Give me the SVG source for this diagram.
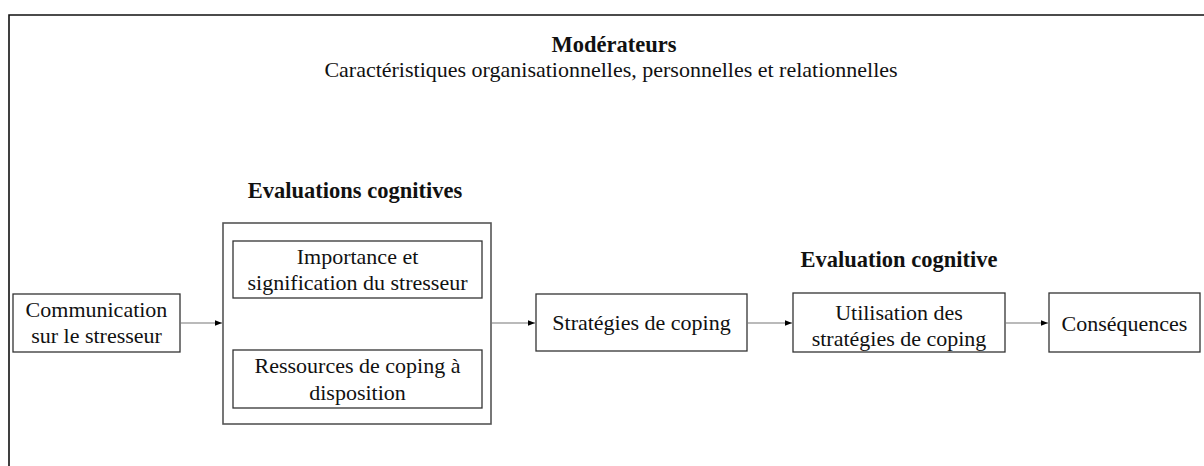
<svg xmlns="http://www.w3.org/2000/svg" width="1204" height="466" viewBox="0 0 1204 466">
  <style>
    text { font-family: "Liberation Serif", "Times New Roman", serif; font-size: 22px; fill: #111; text-anchor: middle; }
    .b { font-weight: bold; font-size: 22.5px; }
    .box { fill: none; stroke: #333; stroke-width: 1.3; }
    .big { fill: none; stroke: #555; stroke-width: 1.6; }
    .conn { stroke: #777; stroke-width: 1.2; fill: none; }
  </style>
  <defs>
    <marker id="ah" viewBox="0 0 10 10" refX="10" refY="5" markerWidth="7" markerHeight="7" markerUnits="userSpaceOnUse" orient="auto">
      <path d="M0,1 L10,5 L0,9 Z" fill="#000"/>
    </marker>
  </defs>
  <rect width="1204" height="466" fill="#fff"/>
  <g id="frame">
    <path d="M9,466 V15 H1204" fill="none" stroke="#111" stroke-width="1.6"/>
  </g>
  <g id="moderateurs">
    <text class="b" x="614" y="52">Modérateurs</text>
    <text x="611" y="77">Caractéristiques organisationnelles, personnelles et relationnelles</text>
  </g>
  <g id="communication">
    <rect class="box" x="13" y="294" width="167" height="58"/>
    <text x="96.5" y="317">Communication</text>
    <text x="96.5" y="343">sur le stresseur</text>
  </g>
  <g id="evaluations">
    <text class="b" x="355" y="198">Evaluations cognitives</text>
    <rect class="big" x="223" y="223" width="268" height="201"/>
  </g>
  <g id="importance">
    <rect class="box" x="233" y="241" width="249" height="57"/>
    <text x="357.5" y="264">Importance et</text>
    <text x="357.5" y="290">signification du stresseur</text>
  </g>
  <g id="ressources">
    <rect class="box" x="233" y="350" width="249" height="58"/>
    <text x="357.5" y="373">Ressources de coping à</text>
    <text x="357.5" y="400">disposition</text>
  </g>
  <g id="strategies">
    <rect class="box" x="536" y="294" width="211" height="57"/>
    <text x="641.5" y="330">Stratégies de coping</text>
  </g>
  <g id="utilisation">
    <text class="b" x="899" y="267">Evaluation cognitive</text>
    <rect class="box" x="793" y="293" width="212" height="59"/>
    <text x="899" y="320">Utilisation des</text>
    <text x="899" y="346">stratégies de coping</text>
  </g>
  <g id="consequences">
    <rect class="box" x="1049" y="293" width="151" height="59"/>
    <text x="1124.5" y="331">Conséquences</text>
  </g>
  <g id="connectors">
    <line class="conn" x1="180" y1="323" x2="222" y2="323" marker-end="url(#ah)"/>
    <line class="conn" x1="491" y1="323" x2="535" y2="323" marker-end="url(#ah)"/>
    <line class="conn" x1="747" y1="323" x2="792" y2="323" marker-end="url(#ah)"/>
    <line class="conn" x1="1005" y1="323" x2="1048" y2="323" marker-end="url(#ah)"/>
  </g>
</svg>
